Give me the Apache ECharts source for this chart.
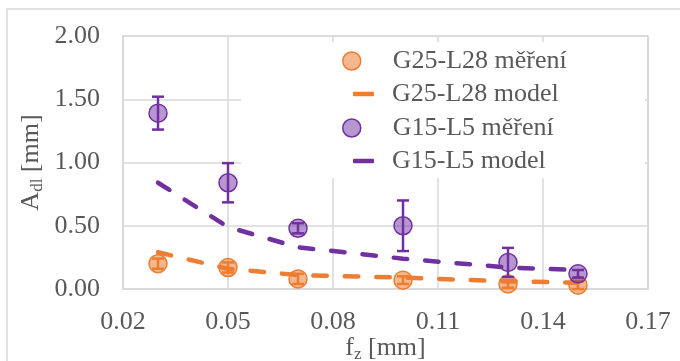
<!DOCTYPE html>
<html><head><meta charset="utf-8">
<script src="https://cdn.jsdelivr.net/npm/echarts@6/dist/echarts.min.js"></script>
<style>html,body{margin:0;padding:0;background:#fff}#c{width:680px;height:361px}</style>
</head><body><div id="c"></div>
<script>
const xValues = [0.03, 0.05, 0.07, 0.10, 0.13, 0.15];
const xTickStart = 0.02;
const g25Measured = [0.20, 0.17, 0.08, 0.07, 0.04, 0.03];
const g25Err = [0.04, 0.04, 0.04, 0.03, 0.03, 0.03];
const g25Model = [0.29, 0.16, 0.11, 0.09, 0.06, 0.05];
const g15Measured = [1.39, 0.84, 0.48, 0.50, 0.21, 0.12];
const g15Err = [0.13, 0.155, 0.04, 0.20, 0.115, 0.03];
const g15Model = [0.84, 0.49, 0.33, 0.24, 0.17, 0.15];
const names = ['G25-L28 měření', 'G25-L28 model', 'G15-L5 měření', 'G15-L5 model'];

const ORANGE = '#ED7D31', PURPLE = '#7030A0', GRAY = '#595959', GRID = '#d9d9d9';
const ORANGE_FILL = 'rgba(237,125,49,0.55)', PURPLE_FILL = 'rgba(112,48,160,0.5)';
const FONT = '"Liberation Serif", "Times New Roman", serif';
const sx = v => +(v - xTickStart).toFixed(4);
const pts = arr => arr.map((y, i) => [sx(xValues[i]), y]);
const errs = (arr, e) => arr.map((y, i) => [sx(xValues[i]), y - e[i], y + e[i]]);

function errRender(color) {
  return function (params, api) {
    const x = api.value(0), lo = api.value(1), hi = api.value(2);
    const p1 = api.coord([x, lo]), p2 = api.coord([x, hi]);
    const hw = 6;
    const st = { stroke: color, lineWidth: 2.5 };
    return { type: 'group', children: [
      { type: 'line', shape: { x1: p1[0], y1: p1[1], x2: p2[0], y2: p2[1] }, style: st },
      { type: 'line', shape: { x1: p1[0] - hw, y1: p1[1], x2: p1[0] + hw, y2: p1[1] }, style: st },
      { type: 'line', shape: { x1: p2[0] - hw, y1: p2[1], x2: p2[0] + hw, y2: p2[1] }, style: st }
    ]};
  };
}

const legendText = { fontFamily: FONT, fontSize: 26, color: GRAY };
const rowsY = [48, 81, 115, 148];
function scatterLegend(name, top, fill, border) {
  return { data: [{ name: name, icon: 'circle', itemStyle: { color: fill, borderColor: border, borderWidth: 1.5 } }],
    left: 342, top: top, padding: 0, itemWidth: 18, itemHeight: 18,
    textStyle: Object.assign({ padding: [0, 0, 0, 27] }, legendText), z: 20, selectedMode: false };
}
function lineLegend(name, top, color) {
  return { data: [{ name: name, icon: 'roundRect', itemStyle: { color: color, borderWidth: 0 } }],
    left: 353, top: top, padding: 0, itemWidth: 21, itemHeight: 4.5,
    textStyle: Object.assign({ padding: [0, 0, 0, 13] }, legendText), z: 20, selectedMode: false };
}

const chart = echarts.init(document.getElementById('c'), null, { renderer: 'canvas' });
chart.setOption({
  animation: false,
  backgroundColor: '#fff',
  graphic: [
    { type: 'rect', shape: { x: 7, y: 9, width: 720, height: 400 }, style: { fill: 'none', stroke: GRID, lineWidth: 1.5 }, z: 0 },
    { type: 'rect', shape: { x: 241, y: 42, width: 404, height: 136 }, style: { fill: '#fff' }, z: 10 }
  ],
  grid: { left: 123, right: 32, top: 36, bottom: 72, show: true, borderColor: GRID, borderWidth: 1.5,
    containLabel: false, outerBoundsMode: 'none' },
  legend: [
    scatterLegend(names[0], rowsY[0], ORANGE_FILL, ORANGE),
    lineLegend(names[1], rowsY[1], ORANGE),
    scatterLegend(names[2], rowsY[2], PURPLE_FILL, PURPLE),
    lineLegend(names[3], rowsY[3], PURPLE)
  ],
  xAxis: {
    type: 'value', min: 0, max: 0.15, interval: 0.03,
    axisLine: { lineStyle: { color: GRID, width: 1.5 } },
    axisTick: { show: false },
    splitLine: { lineStyle: { color: GRID, width: 1.5 } },
    axisLabel: { formatter: v => (v + xTickStart).toFixed(2), fontFamily: FONT, fontSize: 26, color: GRAY, margin: 20 },
    name: '{a|f}{s|z}{a| [mm]}', nameLocation: 'middle', nameGap: 45, nameMoveOverlap: false,
    nameTextStyle: { rich: {
      a: { fontFamily: FONT, fontSize: 26, color: GRAY },
      s: { fontFamily: FONT, fontSize: 17, color: GRAY, padding: [12, 0, 0, 0] }
    } }
  },
  yAxis: {
    type: 'value', min: 0, max: 2, interval: 0.5,
    axisLine: { show: true, lineStyle: { color: GRID, width: 1.5 } },
    axisTick: { show: false },
    splitLine: { lineStyle: { color: GRID, width: 1.5 } },
    axisLabel: { formatter: v => v.toFixed(2), fontFamily: FONT, fontSize: 26, color: GRAY, margin: 23 },
    name: '{a|A}{s|dl}{a| [mm]}', nameLocation: 'middle', nameGap: 77, nameRotate: 90, nameMoveOverlap: false,
    nameTextStyle: { rich: {
      a: { fontFamily: FONT, fontSize: 26, color: GRAY },
      s: { fontFamily: FONT, fontSize: 17, color: GRAY, padding: [12, 0, 0, 0] }
    } }
  },
  series: [
    { name: names[0], type: 'scatter', data: pts(g25Measured), symbol: 'circle', symbolSize: 18, z: 3,
      itemStyle: { color: ORANGE_FILL, borderColor: ORANGE, borderWidth: 1.5, opacity: 1 } },
    { name: 'g25err', type: 'custom', data: errs(g25Measured, g25Err), renderItem: errRender(ORANGE), z: 4, encode: { x: 0, y: [1, 2] } },
    { name: names[1], type: 'line', data: pts(g25Model), showSymbol: false, symbol: 'none', z: 5,
      lineStyle: { color: ORANGE, width: 4.5, type: [13.5, 18], cap: 'round' }, itemStyle: { color: ORANGE } },
    { name: names[2], type: 'scatter', data: pts(g15Measured), symbol: 'circle', symbolSize: 18, z: 6,
      itemStyle: { color: PURPLE_FILL, borderColor: PURPLE, borderWidth: 1.5, opacity: 1 } },
    { name: 'g15err', type: 'custom', data: errs(g15Measured, g15Err), renderItem: errRender(PURPLE), z: 7, encode: { x: 0, y: [1, 2] } },
    { name: names[3], type: 'line', data: pts(g15Model), showSymbol: false, symbol: 'none', z: 8,
      lineStyle: { color: PURPLE, width: 4.5, type: [13.5, 18], cap: 'round' }, itemStyle: { color: PURPLE } }
  ]
});
</script></body></html>
